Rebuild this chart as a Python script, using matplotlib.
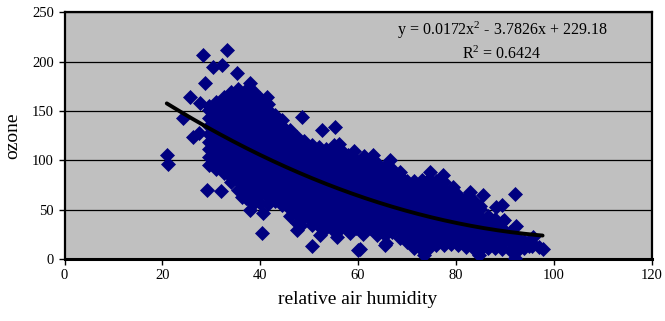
import matplotlib
matplotlib.use("Agg")
import matplotlib.pyplot as plt
import numpy as np

plt.rcParams['font.family'] = ['Liberation Serif', 'DejaVu Serif']
plt.rcParams['mathtext.fontset'] = 'custom'
plt.rcParams['mathtext.rm'] = 'Liberation Serif'
plt.rcParams['mathtext.default'] = 'rm'

# ---- data (relative air humidity, ozone) ----
cloud_left = [
    (29.5, 95), (29.5, 103), (29.5, 111), (29.5, 119), (29.5, 127), (29.5, 135), (29.5, 143), (29.5, 151), (29.5, 155),
    (31.0, 91), (31.0, 99), (31.0, 107), (31.0, 115), (31.0, 123), (31.0, 131), (31.0, 139), (31.0, 147), (31.0, 155), (31.0, 159),
    (32.5, 87), (32.5, 95), (32.5, 103), (32.5, 111), (32.5, 119), (32.5, 127), (32.5, 135), (32.5, 143), (32.5, 151), (32.5, 159), (32.5, 164),
    (34.0, 78), (34.0, 83), (34.0, 91), (34.0, 99), (34.0, 107), (34.0, 115), (34.0, 123), (34.0, 131), (34.0, 139), (34.0, 147), (34.0, 155), (34.0, 163), (34.0, 169),
    (35.5, 70), (35.5, 79), (35.5, 87), (35.5, 95), (35.5, 103), (35.5, 111), (35.5, 119), (35.5, 127), (35.5, 135), (35.5, 143), (35.5, 151), (35.5, 159), (35.5, 167), (35.5, 172),
    (37.0, 62), (37.0, 67), (37.0, 75), (37.0, 83), (37.0, 91), (37.0, 99), (37.0, 107), (37.0, 115), (37.0, 123), (37.0, 131), (37.0, 139), (37.0, 147), (37.0, 155), (37.0, 163), (37.0, 171),
    (38.5, 56), (38.5, 63), (38.5, 71), (38.5, 79), (38.5, 87), (38.5, 95), (38.5, 103), (38.5, 111), (38.5, 119), (38.5, 127), (38.5, 135), (38.5, 143), (38.5, 151), (38.5, 159), (38.5, 167), (38.5, 170),
    (40.0, 57), (40.0, 67), (40.0, 75), (40.0, 83), (40.0, 91), (40.0, 99), (40.0, 107), (40.0, 115), (40.0, 123), (40.0, 131), (40.0, 139), (40.0, 147), (40.0, 155), (40.0, 163),
    (41.5, 56), (41.5, 63), (41.5, 71), (41.5, 79), (41.5, 87), (41.5, 95), (41.5, 103), (41.5, 111), (41.5, 119), (41.5, 127), (41.5, 135), (41.5, 143), (41.5, 151), (41.5, 157),
    (43.0, 59), (43.0, 67), (43.0, 75), (43.0, 83), (43.0, 91), (43.0, 99), (43.0, 107), (43.0, 115), (43.0, 123), (43.0, 131), (43.0, 139), (43.0, 146),
    (44.5, 55), (44.5, 63), (44.5, 71), (44.5, 79), (44.5, 87), (44.5, 95), (44.5, 103), (44.5, 111), (44.5, 119), (44.5, 127), (44.5, 135), (44.5, 141),
]

cloud_mid = [
    (46.0, 44), (46.0, 51), (46.0, 59), (46.0, 67), (46.0, 75), (46.0, 83), (46.0, 91), (46.0, 99), (46.0, 107), (46.0, 115), (46.0, 123), (46.0, 131),
    (47.5, 37), (47.5, 47), (47.5, 55), (47.5, 63), (47.5, 71), (47.5, 79), (47.5, 87), (47.5, 95), (47.5, 103), (47.5, 111), (47.5, 119), (47.5, 124),
    (49.0, 43), (49.0, 51), (49.0, 59), (49.0, 67), (49.0, 75), (49.0, 83), (49.0, 91), (49.0, 99), (49.0, 107), (49.0, 115), (49.0, 120),
    (50.5, 34), (50.5, 39), (50.5, 47), (50.5, 55), (50.5, 63), (50.5, 71), (50.5, 79), (50.5, 87), (50.5, 95), (50.5, 103), (50.5, 111), (50.5, 115),
    (52.0, 33), (52.0, 43), (52.0, 51), (52.0, 59), (52.0, 67), (52.0, 75), (52.0, 83), (52.0, 91), (52.0, 99), (52.0, 107), (52.0, 113),
    (53.5, 31), (53.5, 39), (53.5, 47), (53.5, 55), (53.5, 63), (53.5, 71), (53.5, 79), (53.5, 87), (53.5, 95), (53.5, 103), (53.5, 111),
    (55.0, 28), (55.0, 35), (55.0, 43), (55.0, 51), (55.0, 59), (55.0, 67), (55.0, 75), (55.0, 83), (55.0, 91), (55.0, 99), (55.0, 107), (55.0, 115),
    (56.5, 31), (56.5, 39), (56.5, 47), (56.5, 55), (56.5, 63), (56.5, 71), (56.5, 79), (56.5, 87), (56.5, 95), (56.5, 103), (56.5, 110),
    (58.0, 31), (58.0, 35), (58.0, 43), (58.0, 51), (58.0, 59), (58.0, 67), (58.0, 75), (58.0, 83), (58.0, 91), (58.0, 99), (58.0, 105),
    (59.5, 31), (59.5, 39), (59.5, 47), (59.5, 55), (59.5, 63), (59.5, 71), (59.5, 79), (59.5, 87), (59.5, 95), (59.5, 100),
    (61.0, 25), (61.0, 35), (61.0, 43), (61.0, 51), (61.0, 59), (61.0, 67), (61.0, 75), (61.0, 83), (61.0, 91), (61.0, 97),
    (62.5, 31), (62.5, 39), (62.5, 47), (62.5, 55), (62.5, 63), (62.5, 71), (62.5, 79), (62.5, 87), (62.5, 95), (62.5, 98),
    (64.0, 28), (64.0, 35), (64.0, 43), (64.0, 51), (64.0, 59), (64.0, 67), (64.0, 75), (64.0, 83), (64.0, 91), (64.0, 96),
    (65.5, 24), (65.5, 31), (65.5, 39), (65.5, 47), (65.5, 55), (65.5, 63), (65.5, 71), (65.5, 79), (65.5, 87), (65.5, 94),
    (67.0, 27), (67.0, 35), (67.0, 43), (67.0, 51), (67.0, 59), (67.0, 67), (67.0, 75), (67.0, 83), (67.0, 91),
    (68.5, 21), (68.5, 31), (68.5, 39), (68.5, 47), (68.5, 55), (68.5, 63), (68.5, 71), (68.5, 79), (68.5, 84),
]

cloud_right = [
    (70.0, 17), (70.0, 27), (70.0, 35), (70.0, 43), (70.0, 51), (70.0, 59), (70.0, 67), (70.0, 75), (70.0, 79),
    (71.5, 11), (71.5, 15), (71.5, 23), (71.5, 31), (71.5, 39), (71.5, 47), (71.5, 55), (71.5, 63), (71.5, 71), (71.5, 79),
    (73.0, 9), (73.0, 19), (73.0, 27), (73.0, 35), (73.0, 43), (73.0, 51), (73.0, 59), (73.0, 67), (73.0, 75), (73.0, 80),
    (74.5, 11), (74.5, 15), (74.5, 23), (74.5, 31), (74.5, 39), (74.5, 47), (74.5, 55), (74.5, 63), (74.5, 71), (74.5, 79), (74.5, 81),
    (76.0, 14), (76.0, 19), (76.0, 27), (76.0, 35), (76.0, 43), (76.0, 51), (76.0, 59), (76.0, 67), (76.0, 75), (76.0, 79),
    (77.5, 14), (77.5, 23), (77.5, 31), (77.5, 39), (77.5, 47), (77.5, 55), (77.5, 63), (77.5, 71), (77.5, 78),
    (79.0, 15), (79.0, 19), (79.0, 27), (79.0, 35), (79.0, 43), (79.0, 51), (79.0, 59), (79.0, 67), (79.0, 70),
    (80.5, 14), (80.5, 23), (80.5, 31), (80.5, 39), (80.5, 47), (80.5, 55), (80.5, 63), (80.5, 65),
    (82.0, 12), (82.0, 19), (82.0, 27), (82.0, 35), (82.0, 43), (82.0, 51), (82.0, 59), (82.0, 62),
    (83.5, 11), (83.5, 15), (83.5, 23), (83.5, 31), (83.5, 39), (83.5, 47), (83.5, 55), (83.5, 60),
    (85.0, 9), (85.0, 19), (85.0, 27), (85.0, 35), (85.0, 43), (85.0, 51), (85.0, 54),
    (86.5, 11), (86.5, 15), (86.5, 23), (86.5, 31), (86.5, 39), (86.5, 44),
    (88.0, 11), (88.0, 19), (88.0, 27), (88.0, 35), (88.0, 41),
    (89.5, 10), (89.5, 15), (89.5, 23), (89.5, 31), (89.5, 38),
    (91.0, 9), (91.0, 19), (91.0, 27),
    (92.5, 8), (92.5, 15), (92.5, 22),
    (94.0, 11), (94.0, 18),
    (95.5, 13), (95.5, 16),
    (97.0, 12),
]

outliers = [
    (20.9, 105), (21.2, 96), (24.2, 143), (25.6, 164), (28.3, 207), (33.2, 212),
    (30.3, 194), (32.2, 197), (35.2, 188), (28.7, 178), (27.7, 158), (26.3, 124),
    (27.5, 128), (37.9, 178), (41.4, 164), (48.5, 144), (52.6, 131), (55.2, 134),
    (56.1, 117), (59.1, 109), (29.1, 70), (31.9, 69), (36.2, 63), (37.9, 50),
    (40.5, 47), (40.3, 26), (48.3, 34), (50.5, 13), (60.3, 10), (65.6, 16),
    (73.4, 4), (84.7, 4), (92.0, 1), (92.0, 66), (85.5, 65), (89.4, 55),
    (88.1, 53), (89.9, 40), (92.2, 33), (95.0, 13), (97.7, 10), (95.7, 22),
    (79.4, 73), (82.8, 68), (61.3, 104), (63.0, 105), (66.5, 100), (68.5, 88),
    (74.6, 88), (77.3, 85), (47.5, 29), (52.2, 24), (55.7, 22), (58.3, 26),
    (60.0, 9), (63.8, 24), (65.5, 14),
]

# trendline coefficients as printed on the chart
coef_a, coef_b, coef_c = 0.0172, -3.7826, 229.18
r_squared = 0.6424
trend_range = (20.9, 97.7)

x_ticks = [0, 20, 40, 60, 80, 100, 120]
y_ticks = [0, 50, 100, 150, 200, 250]

# ---- figure ----
fig = plt.figure(figsize=(6.65, 3.21), dpi=100)
ax = fig.add_axes([0.097, 0.193, 0.883, 0.769])
ax.set_facecolor('#C0C0C0')

pts = cloud_left + cloud_mid + cloud_right + outliers
hx = np.array([p[0] for p in pts])
oz = np.array([p[1] for p in pts])

ax.set_axisbelow(True)
ax.yaxis.grid(True, color='black', linewidth=0.9)
ax.plot(hx, oz, linestyle='none', marker='D', markersize=7.3,
        markerfacecolor='#000080', markeredgecolor='#000080', markeredgewidth=0.5,
        antialiased=False, zorder=3)

tx = np.linspace(trend_range[0], trend_range[1], 200)
ty = coef_a * tx**2 + coef_b * tx + coef_c
ax.plot(tx, ty, color='black', linewidth=2.8, solid_capstyle='round', zorder=4)

ax.set_xlim(0, 120)
ax.set_ylim(0, 250)
ax.set_xticks(x_ticks)
ax.set_yticks(y_ticks)
ax.tick_params(direction='out', length=4, width=1, colors='black', labelsize=10.5)
for s in ax.spines.values():
    s.set_linewidth(1.6)
    s.set_color('black')
ax.spines['bottom'].set_linewidth(2.2)

ax.set_xlabel('relative air humidity', fontsize=14, labelpad=6)
ax.set_ylabel('ozone', fontsize=14, labelpad=8)

ax.text(0.745, 0.925, r'y = 0.0172x$^2$ - 3.7826x + 229.18', transform=ax.transAxes,
        ha='center', va='center', fontsize=11.5)
ax.text(0.745, 0.83, r'R$^2$ = 0.6424', transform=ax.transAxes,
        ha='center', va='center', fontsize=11.5)

fig.savefig('out.png', dpi=100, facecolor='white')
